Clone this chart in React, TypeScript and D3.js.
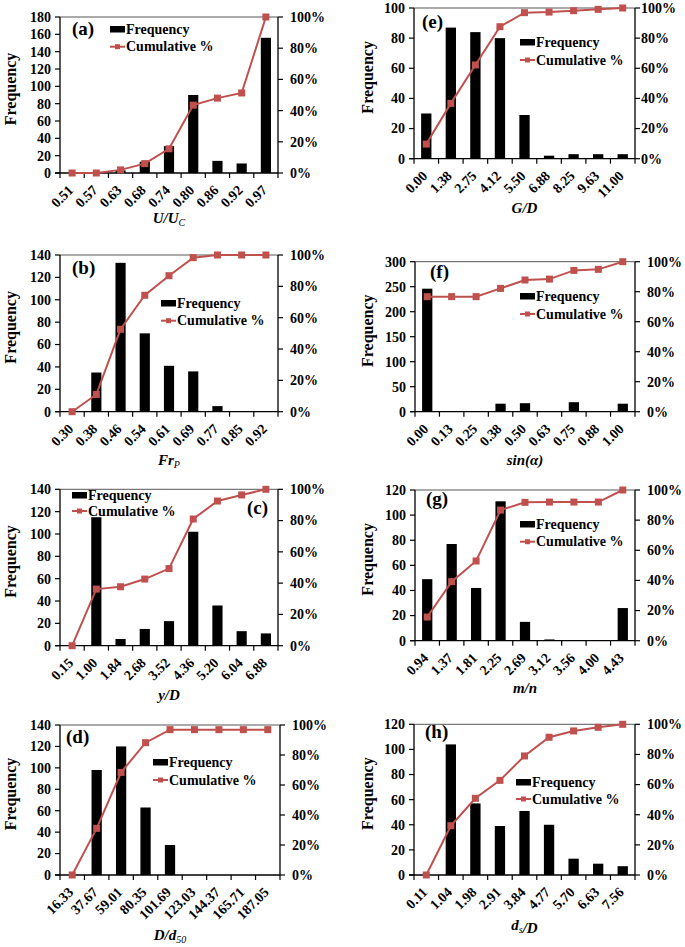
import React from "react";
import * as d3 from "d3";

const catsA = ["0.51", "0.57", "0.63", "0.68", "0.74", "0.80", "0.86", "0.92", "0.97"];
const freqA = [0, 0, 3, 13, 31, 90, 14, 11, 156];
const cumA = [0, 0, 0.02, 0.06, 0.155, 0.435, 0.48, 0.513, 1];

const catsE = ["0.00", "1.38", "2.75", "4.12", "5.50", "6.88", "8.25", "9.63", "11.00"];
const freqE = [30, 87, 84, 80, 29, 2, 3, 3, 3];
const cumE = [0.097, 0.367, 0.622, 0.876, 0.969, 0.973, 0.982, 0.991, 1];

const catsB = ["0.30", "0.38", "0.46", "0.54", "0.61", "0.69", "0.77", "0.85", "0.92"];
const freqB = [0, 35, 133, 70, 41, 36, 5, 0, 0];
const cumB = [0, 0.11, 0.526, 0.743, 0.868, 0.983, 1, 1, 1];

const catsF = ["0.00", "0.13", "0.25", "0.38", "0.50", "0.63", "0.75", "0.88", "1.00"];
const freqF = [246, 0, 0, 16, 17, 1, 19, 1, 16];
const cumF = [0.767, 0.767, 0.767, 0.822, 0.878, 0.884, 0.942, 0.949, 1];

const catsC = ["0.15", "1.00", "1.84", "2.68", "3.52", "4.36", "5.20", "6.04", "6.88"];
const freqC = [0, 115, 6, 15, 22, 102, 36, 13, 11];
const cumC = [0, 0.362, 0.377, 0.426, 0.493, 0.81, 0.925, 0.964, 1];

const catsG = ["0.94", "1.37", "1.81", "2.25", "2.69", "3.12", "3.56", "4.00", "4.43"];
const freqG = [49, 77, 42, 111, 15, 1, 0, 0, 26];
const cumG = [0.157, 0.392, 0.529, 0.867, 0.918, 0.92, 0.92, 0.92, 1];

const catsD = ["16.33", "37.67", "59.01", "80.35", "101.69", "123.03", "144.37", "165.71", "187.05"];
const freqD = [0, 98, 120, 63, 28, 0, 0, 0, 0];
const cumD = [0, 0.311, 0.684, 0.882, 0.969, 0.969, 0.969, 0.969, 0.969];

const catsH = ["0.11", "1.04", "1.98", "2.91", "3.84", "4.77", "5.70", "6.63", "7.56"];
const freqH = [0, 104, 57, 39, 51, 40, 13, 9, 7];
const cumH = [0, 0.327, 0.509, 0.628, 0.79, 0.914, 0.956, 0.98, 1];

const freqTicks180 = [0, 20, 40, 60, 80, 100, 120, 140, 160, 180];
const freqTicks140 = [0, 20, 40, 60, 80, 100, 120, 140];
const freqTicks120 = [0, 20, 40, 60, 80, 100, 120];
const freqTicks100 = [0, 20, 40, 60, 80, 100];
const freqTicks300 = [0, 50, 100, 150, 200, 250, 300];
const pctTicks = [0, 0.2, 0.4, 0.6, 0.8, 1];

const RED = "#C0504D";
const FONT = "'Liberation Serif', 'Times New Roman', serif";

type Panel = {
  label: string;
  cats: string[];
  freq: number[];
  cum: number[];
  ticks: number[];
  box: [number, number, number, number]; // left, right, top, bottom
  legend: [number, number, number]; // swatch x, row1 y, row2 y
  labelPos: [number, number];
  titleY: number;
  yTitleX: number;
  pctGap: number;
  title: React.ReactNode;
};

const sub = (s: string) => (
  <tspan fontSize={10} fontWeight="normal" dy={3}>
    {s}
  </tspan>
);

const panels: Panel[] = [
  {
    label: "(a)", cats: catsA, freq: freqA, cum: cumA, ticks: freqTicks180,
    box: [60, 278, 17, 173], legend: [110, 29, 46.7], labelPos: [72, 34.5], titleY: 223, yTitleX: 10, pctGap: 12,
    title: <>U/U{sub("C")}</>,
  },
  {
    label: "(e)", cats: catsE, freq: freqE, cum: cumE, ticks: freqTicks100,
    box: [414, 635, 8, 158.7], legend: [520, 42, 60], labelPos: [422, 28], titleY: 213, yTitleX: 367, pctGap: 6,
    title: <>G/D</>,
  },
  {
    label: "(b)", cats: catsB, freq: freqB, cum: cumB, ticks: freqTicks140,
    box: [60, 278, 255, 411.7], legend: [161, 303, 320.7], labelPos: [72, 274], titleY: 465, yTitleX: 10, pctGap: 12,
    title: <>Fr{sub("P")}</>,
  },
  {
    label: "(f)", cats: catsF, freq: freqF, cum: cumF, ticks: freqTicks300,
    box: [415, 635, 261.7, 411.7], legend: [520, 296, 314], labelPos: [430, 277.7], titleY: 465, yTitleX: 367, pctGap: 12,
    title: <>sin(α)</>,
  },
  {
    label: "(c)", cats: catsC, freq: freqC, cum: cumC, ticks: freqTicks140,
    box: [60, 278, 489.3, 645.7], legend: [72, 495, 511], labelPos: [247, 514], titleY: 700, yTitleX: 10, pctGap: 12,
    title: <>y/D</>,
  },
  {
    label: "(g)", cats: catsG, freq: freqG, cum: cumG, ticks: freqTicks120,
    box: [415, 635, 490, 640.7], legend: [520, 524, 541.7], labelPos: [426, 505], titleY: 693, yTitleX: 367, pctGap: 12,
    title: <>m/n</>,
  },
  {
    label: "(d)", cats: catsD, freq: freqD, cum: cumD, ticks: freqTicks140,
    box: [60, 280, 725, 875], legend: [153, 762, 780], labelPos: [66, 742.7], titleY: 940, yTitleX: 10, pctGap: 12,
    title: <>D/d{sub("50")}</>,
  },
  {
    label: "(h)", cats: catsH, freq: freqH, cum: cumH, ticks: freqTicks120,
    box: [414, 635, 724.3, 875], legend: [516, 782, 799], labelPos: [425, 737.7], titleY: 930, yTitleX: 367, pctGap: 12,
    title: <>d{sub("s")}/D</>,
  },
];

function ChartPanel({ p }: { p: Panel }) {
  const [L, R, T, B] = p.box;
  const x = d3.scaleBand<string>().domain(p.cats).range([L, R]).paddingInner(0).paddingOuter(0);
  const xb = d3.scaleBand<string>().domain(p.cats).range([L, R]).paddingInner(0.58).paddingOuter(0.29);
  const yMax = p.ticks[p.ticks.length - 1];
  const y = d3.scaleLinear().domain([0, yMax]).range([B, T]);
  const y2 = d3.scaleLinear().domain([0, 1]).range([B, T]);
  const bw = x.bandwidth();
  const cx = (c: string) => (x(c) as number) + bw / 2;
  const line = d3
    .line<number>()
    .x((_, i) => cx(p.cats[i]))
    .y((v) => y2(v));
  const pct = d3.format(".0%");
  const boundaries = d3.range(p.cats.length + 1).map((i) => L + i * bw);
  const [sx, r1, r2] = p.legend;
  return (
    <g fontFamily={FONT} fontWeight="bold">
      {p.freq.map((v, i) => (
        <rect key={i} x={xb(p.cats[i])} y={y(v)} width={xb.bandwidth()} height={B - y(v)} fill="#000" />
      ))}
      <line x1={L} x2={R} y1={T} y2={T} stroke="#444" strokeWidth={0.9} />
      <line x1={L} x2={L} y1={T} y2={B} stroke="#000" strokeWidth={1.3} />
      {p.ticks.map((t) => (
        <g key={t}>
          <line x1={L - 5} x2={L} y1={y(t)} y2={y(t)} stroke="#000" strokeWidth={1.2} />
          <text x={L - 9} y={y(t)} dy="0.35em" textAnchor="end" fontSize={14}>
            {t}
          </text>
        </g>
      ))}
      <line x1={R} x2={R} y1={T} y2={B} stroke="#000" strokeWidth={1.3} />
      {pctTicks.map((t) => (
        <g key={t}>
          <line x1={R} x2={R + 5} y1={y2(t)} y2={y2(t)} stroke="#000" strokeWidth={1.2} />
          <text x={R + p.pctGap} y={y2(t)} dy="0.35em" textAnchor="start" fontSize={14}>
            {pct(t)}
          </text>
        </g>
      ))}
      <line x1={L - 5} x2={R} y1={B} y2={B} stroke="#000" strokeWidth={1.3} />
      {boundaries.map((bx, i) => (
        <line key={i} x1={bx} x2={bx} y1={B} y2={B + 5} stroke="#000" strokeWidth={1.2} />
      ))}
      {p.cats.map((c) => {
        const ax = cx(c) + 2;
        const ay = B + 18;
        return (
          <text key={c} x={ax} y={ay} transform={`rotate(-45 ${ax} ${ay})`} textAnchor="end" fontSize={14}>
            {c}
          </text>
        );
      })}
      <path d={line(p.cum) || ""} fill="none" stroke={RED} strokeWidth={2} />
      {p.cum.map((v, i) => (
        <rect key={i} x={cx(p.cats[i]) - 3.5} y={y2(v) - 3.5} width={7} height={7} fill={RED} />
      ))}
      <text x={p.labelPos[0]} y={p.labelPos[1]} fontSize={19}>
        {p.label}
      </text>
      <rect x={sx} y={r1 - 3} width={15} height={6.5} fill="#000" />
      <text x={sx + 16} y={r1 + 4.5} fontSize={14}>
        Frequency
      </text>
      <line x1={sx} x2={sx + 15} y1={r2} y2={r2} stroke={RED} strokeWidth={2} />
      <rect x={sx + 5} y={r2 - 2.5} width={5} height={5} fill={RED} />
      <text x={sx + 16} y={r2 + 4.5} fontSize={14}>
        Cumulative %
      </text>
      <text
        transform={`translate(${p.yTitleX},${(T + B) / 2 - 6}) rotate(-90)`}
        textAnchor="middle"
        dy="0.35em"
        fontSize={16}
      >
        Frequency
      </text>
      <text x={(L + R) / 2} y={p.titleY} textAnchor="middle" fontSize={15} fontStyle="italic">
        {p.title}
      </text>
    </g>
  );
}

export default function App() {
  return (
    <svg
      width={685}
      height={947}
      viewBox="0 0 685 947"
      style={{ position: "absolute", left: 0, top: 0, background: "#fff" }}
    >
      <rect width={685} height={947} fill="#fff" />
      {panels.map((p) => (
        <ChartPanel key={p.label} p={p} />
      ))}
    </svg>
  );
}
